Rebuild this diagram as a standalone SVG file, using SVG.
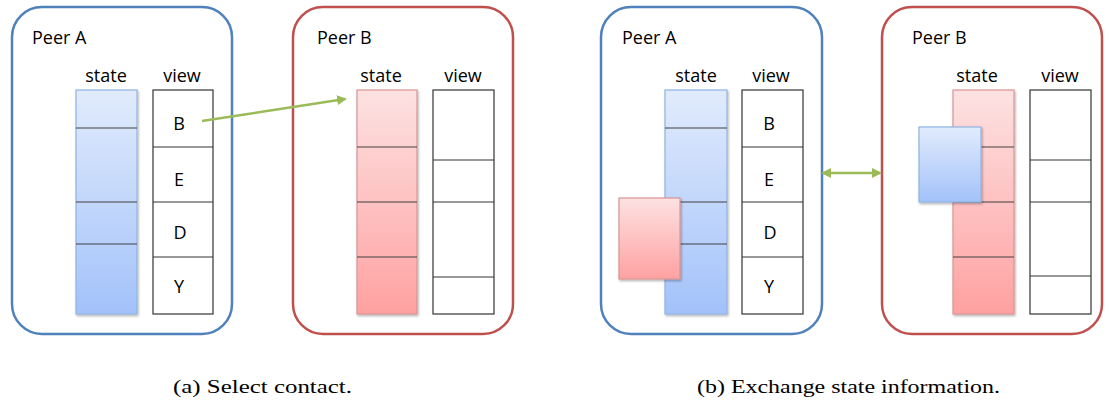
<svg xmlns="http://www.w3.org/2000/svg" width="1110" height="405" viewBox="0 0 1110 405">
  <style>
    .lbl { font-family: "Open Sans", "Liberation Sans", sans-serif; font-size: 18px; fill: #000; }
    .mid { text-anchor: middle; }
    .peerA { fill: #fff; stroke: #4f81bd; stroke-width: 2.5; }
    .peerB { fill: #fff; stroke: #c0504d; stroke-width: 2.5; }
    .stA { fill: url(#gBlue); stroke: #8eb4e3; stroke-width: 1.2; }
    .stB { fill: url(#gRed); stroke: #d99594; stroke-width: 1.2; }
    .div { stroke: #404040; stroke-width: 1.2; }
    .view { fill: #fff; stroke: #333; stroke-width: 1.2; }
    .link { stroke: #9bbb59; stroke-width: 2.5; fill: none; }
    .cap { font-family: "Liberation Serif", serif; font-size: 18px; fill: #000; }
  </style>
  <defs>
    <linearGradient id="gBlue" x1="0" y1="0" x2="0" y2="1">
      <stop offset="0" stop-color="#e1ebfc"/>
      <stop offset="1" stop-color="#a3c2fa"/>
    </linearGradient>
    <linearGradient id="gRed" x1="0" y1="0" x2="0" y2="1">
      <stop offset="0" stop-color="#fde2e2"/>
      <stop offset="1" stop-color="#ffa1a1"/>
    </linearGradient>
    <filter id="sh" x="-20%" y="-10%" width="140%" height="120%">
      <feDropShadow dx="1" dy="1.5" stdDeviation="1.2" flood-color="#000" flood-opacity="0.3"/>
    </filter>
    <marker id="ah" viewBox="0 0 10 10" refX="8" refY="5" markerWidth="4" markerHeight="4" orient="auto-start-reverse">
      <path d="M0,0 L10,5 L0,10 z" fill="#9bbb59"/>
    </marker>
  </defs>

  <!-- (a) Peer A -->
  <g id="a-peerA">
    <rect class="peerA" x="12" y="7" width="220" height="327" rx="30"/>
    <text class="lbl" x="32" y="44">Peer A</text>
    <text class="lbl mid" x="106" y="82">state</text>
    <text class="lbl mid" x="182" y="82">view</text>
    <rect class="stA" filter="url(#sh)" x="76" y="90" width="61" height="224"/>
    <line class="div" x1="76" y1="128" x2="137" y2="128"/>
    <line class="div" x1="76" y1="202" x2="137" y2="202"/>
    <line class="div" x1="76" y1="244" x2="137" y2="244"/>
    <rect class="view" x="153" y="90" width="60" height="224"/>
    <line class="view" x1="153" y1="147" x2="213" y2="147"/>
    <line class="view" x1="153" y1="202" x2="213" y2="202"/>
    <line class="view" x1="153" y1="257" x2="213" y2="257"/>
    <text class="lbl mid" x="179" y="130">B</text>
    <text class="lbl mid" x="179" y="186">E</text>
    <text class="lbl mid" x="180" y="239">D</text>
    <text class="lbl mid" x="179" y="293">Y</text>
  </g>

  <!-- (a) Peer B -->
  <g id="a-peerB">
    <rect class="peerB" x="293" y="7" width="220" height="327" rx="30"/>
    <text class="lbl" x="317" y="44">Peer B</text>
    <text class="lbl mid" x="381" y="82">state</text>
    <text class="lbl mid" x="463" y="82">view</text>
    <rect class="stB" filter="url(#sh)" x="357" y="90" width="60" height="224"/>
    <line class="div" x1="357" y1="147" x2="417" y2="147"/>
    <line class="div" x1="357" y1="202" x2="417" y2="202"/>
    <line class="div" x1="357" y1="257" x2="417" y2="257"/>
    <rect class="view" x="433" y="90" width="61" height="224"/>
    <line class="view" x1="433" y1="160" x2="494" y2="160"/>
    <line class="view" x1="433" y1="202" x2="494" y2="202"/>
    <line class="view" x1="433" y1="277" x2="494" y2="277"/>
  </g>

  <!-- (b) Peer A -->
  <g id="b-peerA">
    <rect class="peerA" x="601" y="7" width="221" height="327" rx="30"/>
    <text class="lbl" x="622" y="44">Peer A</text>
    <text class="lbl mid" x="696" y="82">state</text>
    <text class="lbl mid" x="771" y="82">view</text>
    <rect class="stA" filter="url(#sh)" x="665" y="90" width="62" height="224"/>
    <line class="div" x1="665" y1="128" x2="727" y2="128"/>
    <line class="div" x1="665" y1="202" x2="727" y2="202"/>
    <line class="div" x1="665" y1="244" x2="727" y2="244"/>
    <rect class="view" x="742" y="90" width="61" height="224"/>
    <line class="view" x1="742" y1="147" x2="803" y2="147"/>
    <line class="view" x1="742" y1="202" x2="803" y2="202"/>
    <line class="view" x1="742" y1="257" x2="803" y2="257"/>
    <text class="lbl mid" x="769" y="130">B</text>
    <text class="lbl mid" x="769" y="186">E</text>
    <text class="lbl mid" x="770" y="239">D</text>
    <text class="lbl mid" x="769" y="293">Y</text>
    <rect class="stB" filter="url(#sh)" x="619" y="198" width="61" height="81"/>
  </g>

  <!-- (b) Peer B -->
  <g id="b-peerB">
    <rect class="peerB" x="882" y="7" width="220" height="327" rx="30"/>
    <text class="lbl" x="912" y="44">Peer B</text>
    <text class="lbl mid" x="977" y="82">state</text>
    <text class="lbl mid" x="1060" y="82">view</text>
    <rect class="stB" filter="url(#sh)" x="953" y="90" width="61" height="224"/>
    <line class="div" x1="953" y1="147" x2="1014" y2="147"/>
    <line class="div" x1="953" y1="202" x2="1014" y2="202"/>
    <line class="div" x1="953" y1="257" x2="1014" y2="257"/>
    <rect class="view" x="1030" y="90" width="61" height="224"/>
    <line class="view" x1="1030" y1="160" x2="1091" y2="160"/>
    <line class="view" x1="1030" y1="202" x2="1091" y2="202"/>
    <line class="view" x1="1030" y1="276" x2="1091" y2="276"/>
    <rect class="stA" filter="url(#sh)" x="919" y="127" width="62" height="75"/>
  </g>

  <!-- connectors -->
  <g id="connectors">
    <line class="link" x1="202" y1="121" x2="345" y2="99" marker-end="url(#ah)"/>
    <line class="link" x1="823" y1="173" x2="880" y2="173" marker-start="url(#ah)" marker-end="url(#ah)"/>
  </g>

  <!-- captions -->
  <g id="captions">
    <text class="cap" x="173" y="393" textLength="179" lengthAdjust="spacingAndGlyphs">(a) Select contact.</text>
    <text class="cap" x="697" y="393" textLength="303" lengthAdjust="spacingAndGlyphs">(b) Exchange state information.</text>
  </g>
</svg>
